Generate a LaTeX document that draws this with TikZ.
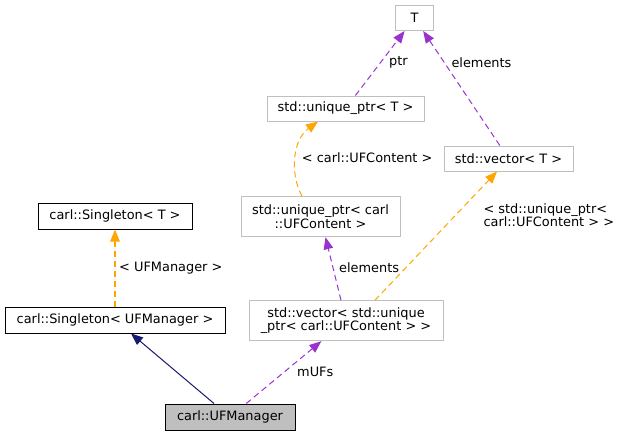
\documentclass[tikz,border=0pt]{standalone}
\usepackage{fontspec}
\setmainfont{DejaVu Sans}
\usetikzlibrary{arrows.meta}
\definecolor{edgeorange}{HTML}{FFA500}
\definecolor{edgepurple}{HTML}{9A32CD}
\definecolor{edgenavy}{HTML}{191970}
\definecolor{boxgray}{HTML}{BFBFBF}

\begin{document}
\begin{tikzpicture}[x=1pt,y=-1pt]
\tikzstyle{every node}=[font=\fontsize{12.9}{13.5}\selectfont, inner sep=0pt, align=center]
\tikzstyle{cls}=[draw=black, line width=1pt, minimum height=26pt]
\tikzstyle{ext}=[draw=boxgray, line width=1pt]
\tikzstyle{lbl}=[anchor=west, align=left]
\tikzstyle{tip}=[-{Triangle[length=12pt,width=9.5pt]}, line width=1pt]
\tikzstyle{usage}=[tip, edgepurple, dash pattern=on 6pt off 4pt]
\tikzstyle{tmpl}=[tip, edgeorange, dash pattern=on 6pt off 4pt]
\tikzstyle{inherit}=[tip, edgenavy]
\useasboundingbox (0,0) rectangle (621,436);
\draw (414.5,18) node (t) [ext, minimum width=38pt, minimum height=25pt] {T};
\draw (345.5,108.5) node (uptrt) [ext, minimum width=157pt, minimum height=25pt] {std::unique\_ptr< T >};
\draw (508.5,158.5) node (vect) [ext, minimum width=129pt, minimum height=25pt] {std::vector< T >};
\draw (320.5,216.7) node (uptrc) [ext, minimum width=159pt, minimum height=40pt] {std::unique\_ptr< carl\\::UFContent >};
\draw (346,320.7) node (vecu) [ext, minimum width=194pt, minimum height=40pt] {std::vector< std::unique\\\_ptr< carl::UFContent > >};
\draw (115,216) node (singt) [cls, minimum width=154pt] {carl::Singleton< T >};
\draw (115,320) node (singm) [cls, minimum width=220pt] {carl::Singleton< UFManager >};
\draw (230,417) node (mgr) [cls, fill=boxgray, minimum width=130pt] {carl::UFManager};
\draw (mgr) edge[inherit] (singm);
\draw (mgr) edge[usage] (vecu);
\draw (singm) edge[tmpl, line width=1.2pt] (singt);
\draw (vecu) edge[usage] (uptrc);
\draw ([xshift=29pt]vecu.north) edge[tmpl] ([xshift=-11.5pt]vect.south);
\draw[tmpl] ([xshift=-18.5pt]uptrc.north) .. controls +(-12,-22) and +(-26,19) .. ([xshift=-27.5pt]uptrt.south);
\draw (uptrt) edge[usage] (t);
\draw (vect) edge[usage] (t);
\draw (119,268) node (lsing) [lbl] {< UFManager >};
\draw (297,372) node (lmufs) [lbl] {mUFs};
\draw (339,267.3) node (lelem) [lbl] {elements};
\draw (389,62.3) node (lptr) [lbl] {ptr};
\draw (451.3,62.3) node (lelemt) [lbl] {elements};
\draw (301.7,157.3) node (luptr) [lbl] {< carl::UFContent >};
\draw (483.3,215.3) node (lvec) [lbl] {< std::unique\_ptr<\\carl::UFContent > >};
\end{tikzpicture}
\end{document}
